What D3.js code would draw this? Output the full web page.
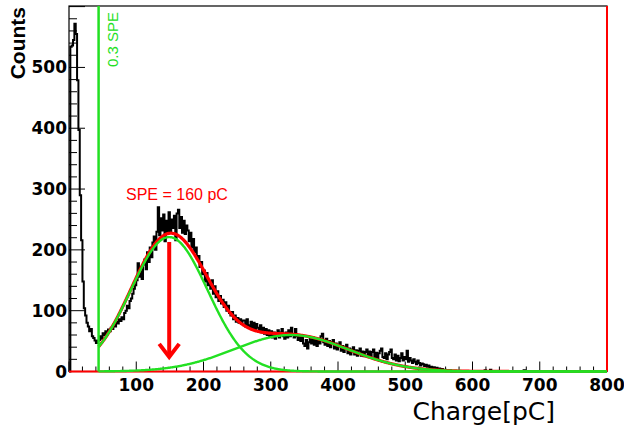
<!DOCTYPE html>
<html>
<head>
<meta charset="utf-8">
<script src="https://cdn.jsdelivr.net/npm/d3@7"></script>
<style>
body{margin:0;background:#fff;}
</style>
</head>
<body>
<div id="chart"></div>
<script>
// histogram contents, 2 pC wide bins starting at 0
var binStart = 0, binWidth = 2;
var counts = [
	0,534,536,545,572,555,479,397,290,216,148,104,92,80,74,66,70,58,55,51,47,50,
	52,58,54,63,60,66,62,69,66,72,70,77,74,82,79,86,83,89,86,96,100,108,104,116,120,128,136,142,
	150,178,156,170,152,176,184,168,196,180,204,188,212,222,200,
	230,270,224,252,232,258,214,248,230,262,228,250,236,256,216,260,266,236,254,228,248,226,240,
	232,214,228,204,218,196,204,186,190,172,180,160,166,148,162,142,146,136,150,128,140,122,132,116,124,112,118,106,114,100,108,96,
	92,98,86,92,82,88,80,86,78,84,
	84,74,86,76,72,82,70,80,68,78,72,66,76,64,72,62,70,60,68,58,
	66,56,64,54,62,68,56,64,70,58,54,64,56,68,58,72,60,56,70,58,52,
	60,50,58,46,42,52,38,48,54,46,56,44,52,42,54,46,58,62,48,44,54,42,50,40,48,
	52,38,46,36,44,48,34,42,32,40,44,30,38,28,36,40,28,35,26,34,38,26,33,25,32,
	36,26,33,24,32,36,23,31,22,30,34,38,24,22,30,20,28,32,36,22,20,28,18,26,17,
	22,30,18,24,20,34,16,22,18,14,20,16,12,18,14,10,13,
	12,9,11,8,10,6,8,5,7,4,6,3,5,2,4,2,3,1,2,1,2,0,1,
	0,1,0,0,1,0,0,0,1,0,0,0,0,0,
	0,0,0,0,0,0,0,0,0,2,0,1,0,3,0,0,0,0,0,0,
	0,0,0,0,0,0,0,0,0,0,0,0,0,0,1,0,0,0,2,0,
	0,0,0,0,0,0,0,0,0,0,0,0,0,0,0,0,0,0,0,0,
	0,0,0,0,0,0,0,0,0,0,0,0,0,0,0,0,0,0,0,0,
	0,0,0,0,0,0,0,0,0,0,0,0,0,0,0,0,0,0,0,0
];
var xTicks = [100,200,300,400,500,600,700,800];
var yTicks = [0,100,200,300,400,500];
// fitted gaussians: [constant, mean, sigma]
var gausSPE = [221,149,57];
var gausTwo = [60,330,85];
var fitRange = [44,800];
var cutValue = 44;           // 0.3 SPE threshold
var arrowPos = [149,213,24]; // x, from, to
var xTitle = 'Charge[pC]', yTitle = 'Counts';
var speText = 'SPE = 160 pC', cutText = '0.3 SPE';

var W = 624, H = 428;
var margin = {top: 6, right: 17, bottom: 56.5, left: 69};
var green = '#22e022', red = '#ff0000';

var svg = d3.select('#chart').append('svg')
	.attr('width', W).attr('height', H);

var x = d3.scaleLinear().domain([0,800]).range([margin.left, W - margin.right]);
var y = d3.scaleLinear().domain([0,601]).range([H - margin.bottom, margin.top]);

// ticks, drawn inside the frame like ROOT does
var xMinor = d3.range(0, 801, 20);
svg.append('g').selectAll('line').data(xMinor).enter().append('line')
	.attr('x1', function(d){ return x(d); })
	.attr('x2', function(d){ return x(d); })
	.attr('y1', y(0))
	.attr('y2', function(d){ return y(0) - (d % 100 === 0 ? 10 : 5); })
	.attr('stroke', '#000').attr('stroke-width', 1);
var yMinor = d3.range(0, 601, 20);
svg.append('g').selectAll('line').data(yMinor).enter().append('line')
	.attr('y1', function(d){ return y(d); })
	.attr('y2', function(d){ return y(d); })
	.attr('x1', x(0))
	.attr('x2', function(d){ return x(0) + (d % 100 === 0 ? 16 : 8); })
	.attr('stroke', '#000').attr('stroke-width', 1);

// frame
svg.append('rect')
	.attr('x', x(0)).attr('y', y(601))
	.attr('width', x(800) - x(0)).attr('height', y(0) - y(601))
	.attr('fill', 'none').attr('stroke', '#000').attr('stroke-width', 1.2);

// histogram outline
var pts = [[binStart, 0]];
counts.forEach(function(c, i){
	var lo = binStart + i * binWidth;
	pts.push([lo, c]);
	pts.push([lo + binWidth, c]);
});
pts.push([binStart + counts.length * binWidth, 0]);
var line = d3.line()
	.x(function(d){ return x(d[0]); })
	.y(function(d){ return y(d[1]); });
svg.append('path').datum(pts)
	.attr('d', line)
	.attr('fill', 'none').attr('stroke', '#000').attr('stroke-width', 2);

// fit functions
function gaus(p, v){
	return p[0] * Math.exp(-(v - p[1]) * (v - p[1]) / (2 * p[2] * p[2]));
}
var fx = d3.range(fitRange[0], fitRange[1] + 0.1, 1);
var smooth = d3.line()
	.x(function(d){ return x(d[0]); })
	.y(function(d){ return y(d[1]); });

svg.append('line')
	.attr('x1', x(0)).attr('x2', x(800)).attr('y1', y(0)).attr('y2', y(0))
	.attr('stroke', red).attr('stroke-width', 2);
svg.append('line')
	.attr('x1', x(800)).attr('x2', x(800)).attr('y1', y(0)).attr('y2', y(601))
	.attr('stroke', red).attr('stroke-width', 2);
svg.append('path')
	.datum(fx.map(function(v){ return [v, gaus(gausSPE, v) + gaus(gausTwo, v)]; }))
	.attr('d', smooth).attr('fill', 'none')
	.attr('stroke', red).attr('stroke-width', 3.2);
[gausSPE, gausTwo].forEach(function(p){
	svg.append('path')
		.datum(fx.map(function(v){ return [v, gaus(p, v)]; }))
		.attr('d', smooth).attr('fill', 'none')
		.attr('stroke', green).attr('stroke-width', 2.4);
});

// threshold line
svg.append('line')
	.attr('x1', x(cutValue)).attr('x2', x(cutValue))
	.attr('y1', y(0)).attr('y2', y(601))
	.attr('stroke', green).attr('stroke-width', 2.5);

// arrow at SPE
var ax = x(arrowPos[0]), ay1 = y(arrowPos[1]), ay2 = y(arrowPos[2]);
svg.append('line')
	.attr('x1', ax).attr('x2', ax).attr('y1', ay1).attr('y2', ay2 - 2)
	.attr('stroke', red).attr('stroke-width', 4);
svg.append('path')
	.attr('d', 'M' + (ax - 10) + ',' + (ay2 - 13) + 'L' + ax + ',' + ay2 + 'L' + (ax + 10) + ',' + (ay2 - 13))
	.attr('fill', 'none').attr('stroke', red).attr('stroke-width', 4);

// labels
svg.append('g').selectAll('text').data(xTicks).enter().append('text')
	.attr('x', function(d){ return x(d); })
	.attr('y', 391)
	.attr('text-anchor', 'middle')
	.attr('font-family', 'DejaVu Sans').attr('font-weight', 'bold').attr('font-size', 17)
	.text(function(d){ return d; });
svg.append('g').selectAll('text').data(yTicks).enter().append('text')
	.attr('x', 67)
	.attr('y', function(d){ return y(d) + 6; })
	.attr('text-anchor', 'end')
	.attr('font-family', 'DejaVu Sans').attr('font-weight', 'bold').attr('font-size', 17)
	.text(function(d){ return d; });

svg.append('text')
	.attr('x', 555).attr('y', 420)
	.attr('text-anchor', 'end')
	.attr('font-family', 'DejaVu Sans').attr('font-size', 25)
	.text(xTitle);
svg.append('text')
	.attr('transform', 'translate(25,7) rotate(-90)')
	.attr('text-anchor', 'end')
	.attr('font-family', 'Liberation Sans').attr('font-weight', 'bold').attr('font-size', 21)
	.text(yTitle);
svg.append('text')
	.attr('transform', 'translate(118,12) rotate(-90)')
	.attr('text-anchor', 'end')
	.attr('font-family', 'Liberation Sans').attr('font-size', 15)
	.attr('fill', green)
	.text(cutText);
svg.append('text')
	.attr('x', 126).attr('y', 200)
	.attr('font-family', 'Liberation Sans').attr('font-size', 16)
	.attr('fill', red)
	.text(speText);
</script>
</body>
</html>
